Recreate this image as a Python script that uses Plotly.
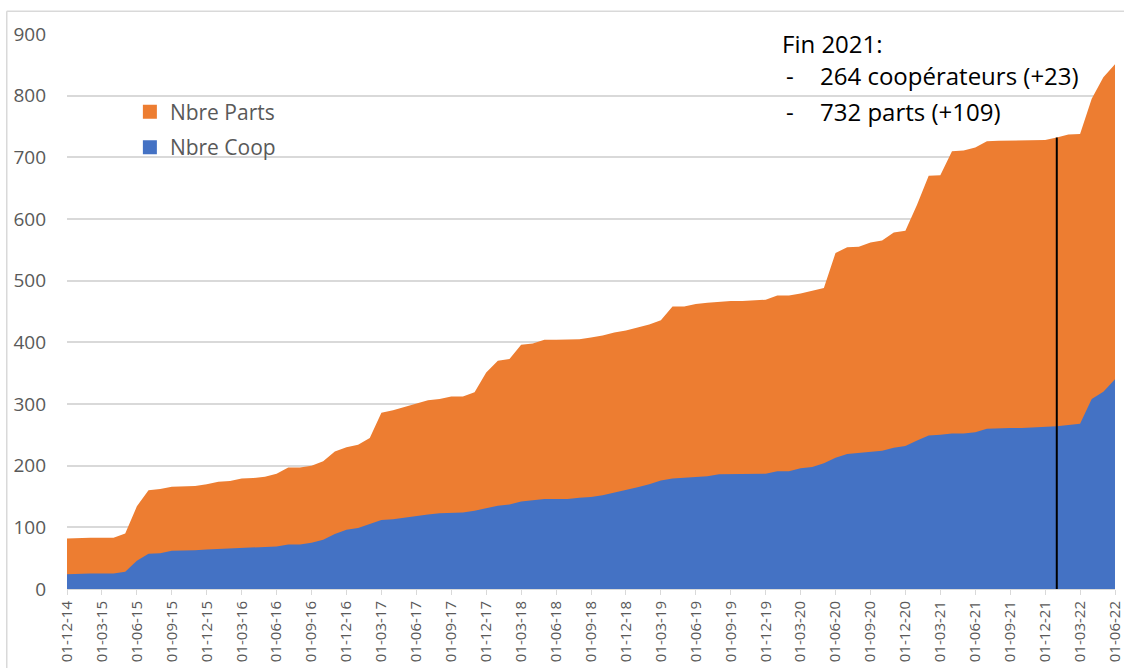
import pandas as pd
import plotly.graph_objects as go

# Monthly dates (category labels) from 01-12-14 to 01-06-22
dates = [d.strftime("%d-%m-%y") for d in pd.date_range("2014-12-01", "2022-06-01", freq="MS")]

nbre_parts = [
    82, 83, 83, 83, 83, 90, 134, 160, 162, 166, 166, 167, 170, 174, 175, 179, 180, 182, 187, 197,
    197, 200, 207, 223, 230, 234, 245, 286, 290, 295, 301, 306, 308, 312, 312, 319, 351, 370, 373, 396,
    398, 404, 404, 404, 405, 408, 411, 416, 419, 424, 429, 436, 458, 458, 462, 464, 466, 467, 467, 468,
    469, 476, 476, 479, 483, 488, 545, 554, 555, 562, 565, 578, 581, 623, 670, 671, 710, 711, 716, 726,
    727, 727, 727, 727, 728, 732, 737, 738, 795, 830, 851,
]
nbre_coop = [
    24, 25, 25, 25, 25, 28, 46, 57, 58, 62, 62, 63, 64, 65, 65, 66, 68, 68, 69, 72,
    72, 75, 80, 89, 96, 99, 106, 112, 113, 116, 119, 121, 123, 124, 124, 127, 131, 135, 137, 142,
    144, 146, 146, 146, 148, 149, 152, 156, 160, 165, 170, 176, 179, 180, 182, 183, 186, 186, 186, 186,
    187, 191, 191, 196, 198, 204, 213, 219, 221, 222, 224, 229, 232, 241, 249, 250, 252, 252, 254, 260,
    261, 261, 261, 262, 262, 264, 266, 268, 308, 320, 340,
]

tick_labels = dates[::3]
y_ticks = [0, 100, 200, 300, 400, 500, 600, 700, 800, 900]
marker_date = "01-01-22"

ORANGE = "#ED7D31"
BLUE = "#4472C4"
GRID = "#D9D9D9"
TXT = "#595959"
FONT = "Open Sans"

fig = go.Figure()
fig.add_trace(go.Scatter(x=dates, y=nbre_parts, mode="lines", fill="tozeroy",
                         line=dict(width=0, color=ORANGE), fillcolor=ORANGE,
                         showlegend=False, hoverinfo="skip"))
fig.add_trace(go.Scatter(x=dates, y=nbre_coop, mode="lines", fill="tozeroy",
                         line=dict(width=0, color=BLUE), fillcolor=BLUE,
                         showlegend=False, hoverinfo="skip"))
# legend entries with square swatches
fig.add_trace(go.Scatter(x=[None], y=[None], mode="markers", name="Nbre Parts",
                         marker=dict(symbol="square", size=14, color=ORANGE),
                         legendgroup="a"))
fig.add_trace(go.Scatter(x=[None], y=[None], mode="markers", name="Nbre Coop",
                         marker=dict(symbol="square", size=14, color=BLUE),
                         legendgroup="b"))

# vertical marker line at end of 2021
mi = dates.index(marker_date)
fig.add_shape(type="line", xref="x", yref="y", x0=mi, x1=mi, y0=0, y1=nbre_parts[mi],
              line=dict(color="black", width=2))

# chart border (top and left)
fig.add_shape(type="line", xref="paper", yref="paper", x0=-0.0575, x1=1.01, y0=1.041, y1=1.041,
              line=dict(color=GRID, width=1.5))
fig.add_shape(type="line", xref="paper", yref="paper", x0=-0.0575, x1=-0.0575, y0=1.041, y1=-0.2,
              line=dict(color=GRID, width=1.5))

ann_font = dict(family=FONT, size=24, color="black")
lines = [
    (0.68, 0.983, "Fin 2021:"),
    (0.684, 0.925, "-"),
    (0.717, 0.925, "264 coopérateurs (+23)"),
    (0.684, 0.860, "-"),
    (0.717, 0.860, "732 parts (+109)"),
]
for x, y, t in lines:
    fig.add_annotation(xref="paper", yref="paper", x=x, y=y, text=t, showarrow=False,
                       xanchor="left", yanchor="middle", font=ann_font)

fig.update_layout(
    width=1124, height=668,
    margin=dict(l=67, r=9, t=34, b=79),
    plot_bgcolor="white", paper_bgcolor="white",
    font=dict(family=FONT, color=TXT),
    legend=dict(x=0.06, y=0.896, xanchor="left", yanchor="top",
                font=dict(family=FONT, size=21, color=TXT),
                tracegroupgap=5, bgcolor="rgba(0,0,0,0)"),
    xaxis=dict(type="category", range=[0, len(dates) - 1], automargin=False,
               tickmode="array", tickvals=tick_labels, ticktext=tick_labels,
               tickangle=-90, tickfont=dict(family=FONT, size=15, color=TXT),
               showgrid=False, showline=True, linecolor=GRID, linewidth=1,
               ticks="outside", ticklen=5, tickcolor=GRID, zeroline=False),
    yaxis=dict(range=[0, 900], tickvals=y_ticks, showgrid=True, gridcolor=GRID, gridwidth=1.5,
               automargin=False,
               tickfont=dict(family=FONT, size=19, color=TXT), zeroline=False,
               showline=False, ticks="", ticklabelstandoff=20),
)

fig.write_html("out.html", config={"displayModeBar": False},
               post_script="document.body.style.margin='0';document.body.style.overflow='hidden';")
